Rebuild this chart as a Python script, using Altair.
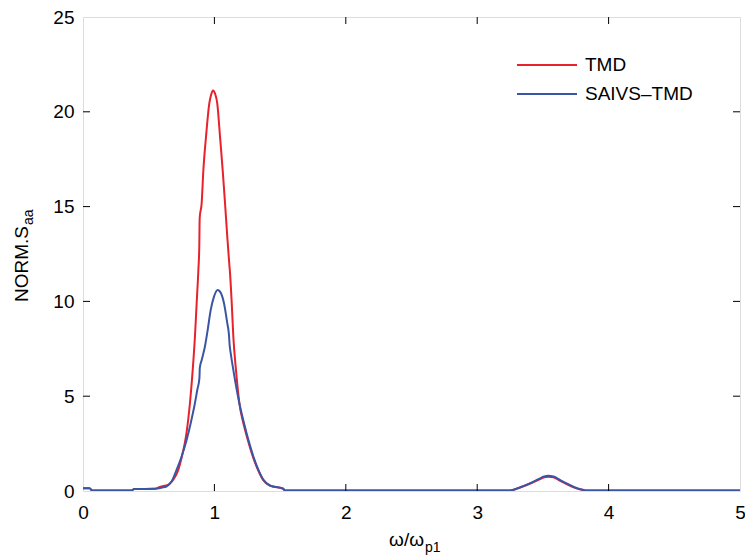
import altair as alt
import pandas as pd

# ---- data ----
series = ["TMD", "SAIVS–TMD"]
colors = ["#e8212b", "#3b55a5"]

x_tmd = [0.0, 0.05, 0.07, 0.37, 0.39, 0.55, 0.586, 0.65, 0.687, 0.726,
         0.759, 0.784, 0.814, 0.835, 0.852, 0.865, 0.878, 0.885, 0.888, 0.903,
         0.916, 0.936, 0.961, 0.975, 0.99, 1.005, 1.022, 1.043, 1.063, 1.081,
         1.098, 1.113, 1.119, 1.132, 1.144, 1.164, 1.19, 1.225, 1.258, 1.296,
         1.334, 1.372, 1.423, 1.524, 1.535, 3.25, 3.33, 3.40, 3.47, 3.51,
         3.54, 3.58, 3.62, 3.68, 3.74, 3.81, 3.83, 5.0]
y_tmd = [0.15, 0.15, 0.03, 0.03, 0.1, 0.12, 0.22, 0.34, 0.6, 1.13,
         2.01, 2.89, 4.64, 6.39, 8.15, 9.9, 11.66, 12.9, 14.4, 15.17,
         16.92, 18.67, 20.43, 20.9, 21.13, 20.96, 20.43, 18.67, 16.92, 15.17,
         13.41, 12.0, 11.48, 9.9, 8.15, 6.39, 4.64, 3.45, 2.6, 1.75,
         1.08, 0.57, 0.28, 0.12, 0.03, 0.03, 0.2, 0.38, 0.6, 0.72,
         0.75, 0.72, 0.58, 0.37, 0.18, 0.05, 0.03, 0.03]

x_saivs = [0.0, 0.05, 0.07, 0.37, 0.39, 0.55, 0.60, 0.637, 0.675, 0.713,
           0.751, 0.789, 0.82, 0.852, 0.87, 0.886, 0.889, 0.903, 0.928, 0.949,
           0.972, 0.997, 1.025, 1.05, 1.073, 1.098, 1.11, 1.116, 1.124, 1.144,
           1.17, 1.195, 1.225, 1.258, 1.296, 1.334, 1.372, 1.423, 1.524, 1.535,
           3.25, 3.33, 3.40, 3.47, 3.51, 3.54, 3.58, 3.62, 3.68, 3.74,
           3.81, 3.83, 5.0]
y_saivs = [0.15, 0.15, 0.03, 0.03, 0.1, 0.12, 0.18, 0.25, 0.52, 1.13,
           1.83, 2.71, 3.59, 4.64, 5.34, 5.95, 6.5, 6.9, 7.62, 8.5,
           9.55, 10.25, 10.6, 10.43, 9.9, 8.85, 8.3, 7.7, 7.27, 6.39,
           5.34, 4.46, 3.59, 2.71, 1.83, 1.13, 0.6, 0.29, 0.12, 0.03,
           0.03, 0.2, 0.4, 0.64, 0.77, 0.8, 0.77, 0.62, 0.4, 0.2,
           0.05, 0.03, 0.03]

x_ticks = [0, 1, 2, 3, 4, 5]
y_ticks = [0, 5, 10, 15, 20, 25]
x_inner_ticks = [1, 2, 3, 4]
y_inner_ticks = [5, 10, 15, 20]

# ---- layout ----
W, H = 657, 474
FONT = "Liberation Sans"
FS = 19

xs = alt.Scale(domain=[0, 5], nice=False, zero=False)
ys = alt.Scale(domain=[0, 25], nice=False, zero=False)
ax_x = alt.Axis(values=x_ticks, format="d", domain=False, ticks=False, grid=False,
                labelFont=FONT, labelFontSize=FS, labelColor="black",
                labelPadding=12, labelFlush=False, title=None)
ax_y = alt.Axis(values=y_ticks, format="d", domain=False, ticks=False, grid=False,
                labelFont=FONT, labelFontSize=FS, labelColor="black",
                labelPadding=9, labelFlush=False, title=None)

df_t = pd.DataFrame({"x": x_tmd, "y": y_tmd})
df_s = pd.DataFrame({"x": x_saivs, "y": y_saivs})


def line(df, color):
    return alt.Chart(df).mark_line(color=color, strokeWidth=2, clip=True,
                                   interpolate="monotone").encode(
        x=alt.X("x:Q", scale=xs, axis=ax_x),
        y=alt.Y("y:Q", scale=ys, axis=ax_y),
    )


red = line(df_t, colors[0])
blue = line(df_s, colors[1])

# inward ticks on all four sides
dxt = pd.DataFrame({"v": x_inner_ticks})
dyt = pd.DataFrame({"v": y_inner_ticks})
TL = 7
tick_bottom = alt.Chart(dxt).mark_rule(color="black", strokeWidth=1).encode(
    x=alt.X("v:Q", scale=xs, axis=ax_x), y=alt.value(H), y2=alt.value(H - TL))
tick_top = alt.Chart(dxt).mark_rule(color="black", strokeWidth=1).encode(
    x=alt.X("v:Q", scale=xs, axis=ax_x), y=alt.value(0), y2=alt.value(TL))
tick_left = alt.Chart(dyt).mark_rule(color="black", strokeWidth=1).encode(
    y=alt.Y("v:Q", scale=ys, axis=ax_y), x=alt.value(0), x2=alt.value(TL))
tick_right = alt.Chart(dyt).mark_rule(color="black", strokeWidth=1).encode(
    y=alt.Y("v:Q", scale=ys, axis=ax_y), x=alt.value(W), x2=alt.value(W - TL))

# legend (inside, top right)
leg_layers = []
for name, col, ly in zip(series, colors, [48, 77]):
    d = pd.DataFrame({"t": [name]})
    leg_layers.append(alt.Chart(d).mark_rule(color=col, strokeWidth=2).encode(
        x=alt.value(434), x2=alt.value(494), y=alt.value(ly)))
    leg_layers.append(alt.Chart(d).mark_text(
        font=FONT, fontSize=FS, color="black", align="left", baseline="middle").encode(
        x=alt.value(502), y=alt.value(ly), text="t:N"))

# axis titles with subscripts
def txt(s, x, y, size, align="left", angle=0):
    return alt.Chart(pd.DataFrame({"t": [s]})).mark_text(
        font=FONT, fontSize=size, color="black", align=align,
        baseline="alphabetic", angle=angle).encode(
        x=alt.value(x), y=alt.value(y), text="t:N")

xt1 = txt("ω/ω", 341, 529, FS, align="right")
xt2 = txt("p1", 342, 535, 14)
yt1 = txt("NORM.S", -55, 285, FS, angle=270)
yt2 = txt("aa", -50, 208, 14, angle=270)

chart = alt.layer(
    red, blue, tick_bottom, tick_top, tick_left, tick_right,
    *leg_layers, xt1, xt2, yt1, yt2
).properties(
    width=W, height=H,
    autosize=alt.AutoSizeParams(type="none"),
    padding={"left": 83, "top": 17, "right": 5, "bottom": 67},
).configure_view(
    stroke="black", strokeWidth=1, fill="white"
).configure(background="white")

chart.save("out.html", embed_options={"renderer": "svg", "actions": False})
